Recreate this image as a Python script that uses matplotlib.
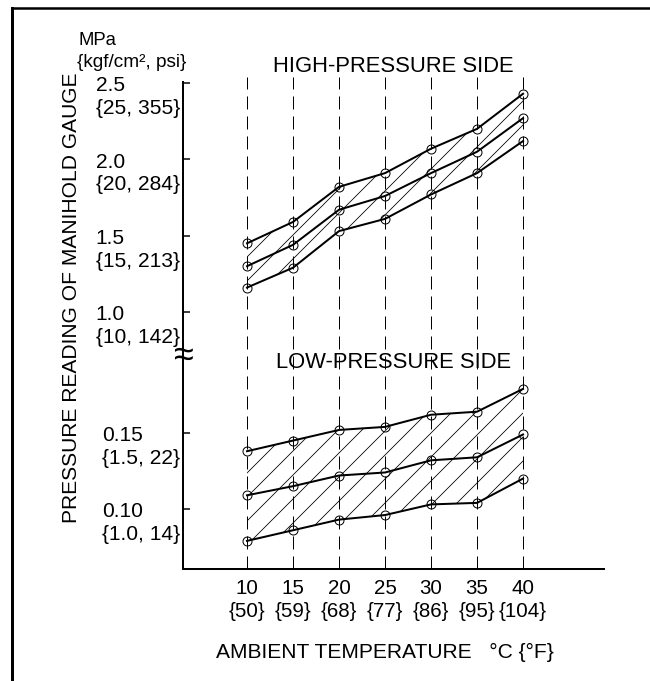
#!/usr/bin/env python3
"""Manifold gauge pressure vs ambient temperature (high / low side, broken y axis)."""
import matplotlib
matplotlib.use("Agg")
import matplotlib.pyplot as plt
import matplotlib.transforms as mtransforms
from matplotlib.lines import Line2D

plt.rcParams["font.family"] = ["Liberation Sans", "DejaVu Sans"]
plt.rcParams["hatch.linewidth"] = 0.8

W, H, DPI = 650, 681, 72

TEMPS_C = [10, 15, 20, 25, 30, 35, 40]
TEMPS_F = [50, 59, 68, 77, 86, 95, 104]

# high-pressure side, MPa (upper / middle / lower curve)
HI_TOP = [1.45, 1.59, 1.82, 1.91, 2.07, 2.20, 2.43]
HI_MID = [1.30, 1.44, 1.67, 1.76, 1.91, 2.05, 2.27]
HI_BOT = [1.16, 1.29, 1.53, 1.61, 1.77, 1.91, 2.12]

# low-pressure side, MPa
LO_TOP = [0.138, 0.145, 0.152, 0.154, 0.162, 0.164, 0.179]
LO_MID = [0.109, 0.115, 0.122, 0.124, 0.132, 0.134, 0.149]
LO_BOT = [0.079, 0.086, 0.093, 0.096, 0.103, 0.104, 0.120]

HI_TICKS = [1.0, 1.5, 2.0, 2.5]
HI_LABELS = ["1.0\n{10, 142}", "1.5\n{15, 213}", "2.0\n{20, 284}", "2.5\n{25, 355}"]
LO_TICKS = [0.10, 0.15]
LO_LABELS = ["0.10\n{1.0, 14}", "0.15\n{1.5, 22}"]


def px(x, y):
    """pixel (from top-left) -> figure fraction"""
    return x / W, 1 - y / H


def band(ax, top, mid, bot):
    ax.fill_between(TEMPS_C, bot, top, facecolor="none", edgecolor="black",
                    hatch="/", lw=0, zorder=1)
    for ys in (top, mid, bot):
        ax.plot(TEMPS_C, ys, color="black", lw=2, marker="o", ms=9,
                mfc="none", mec="black", mew=1, zorder=3)


def ylabels(fig, ax, ticks, labels):
    ax.set_yticks(ticks, labels=labels)
    ax.tick_params(axis="y", direction="in", length=7, width=1.5, pad=3,
                   labelsize=21)
    # baseline anchor is the 2nd line here; put it ~31 px below the tick
    off = mtransforms.ScaledTranslation(0, -31 / 72, fig.dpi_scale_trans)
    for lab in ax.get_yticklabels():
        lab.set_verticalalignment("baseline")
        lab.set_multialignment("left")
        lab.set_linespacing(1.25)
        lab.set_transform(lab.get_transform() + off)


def main():
    fig = plt.figure(figsize=(W / DPI, H / DPI), dpi=DPI)
    x0, _ = px(183, 0)
    x1, _ = px(604, 0)
    _, yt = px(0, 82)
    _, yb = px(0, 355)
    _, ya = px(0, 569)
    ax_hi = fig.add_axes([x0, yb, x1 - x0, yt - yb])
    ax_lo = fig.add_axes([x0, ya, x1 - x0, yb - ya])

    for ax in (ax_hi, ax_lo):
        ax.set_xlim(3.04, 48.8)
        ax.patch.set_visible(False)
        for s in ("top", "right"):
            ax.spines[s].set_visible(False)
        ax.spines["left"].set_linewidth(2)
    ax_hi.spines["bottom"].set_visible(False)
    ax_lo.spines["bottom"].set_linewidth(2)
    ax_hi.set_ylim(0.718, 2.507)
    ax_lo.set_ylim(0.0605, 0.2013)

    band(ax_hi, HI_TOP, HI_MID, HI_BOT)
    band(ax_lo, LO_TOP, LO_MID, LO_BOT)

    # dashed guides for every temperature, running through both panels
    trans = mtransforms.blended_transform_factory(ax_hi.transData, fig.transFigure)
    ax_hi.vlines(TEMPS_C, ya, px(0, 77)[1], transform=trans, color="black",
                 lw=1, linestyles=(0, (13, 7)), clip_on=False, zorder=2)

    ylabels(fig, ax_hi, HI_TICKS, HI_LABELS)
    ylabels(fig, ax_lo, LO_TICKS, LO_LABELS)
    ax_hi.set_xticks([])
    ax_lo.set_xticks(TEMPS_C, labels=[f"{c}\n{{{f}}}" for c, f in zip(TEMPS_C, TEMPS_F)])
    ax_lo.tick_params(axis="x", length=0, pad=10, labelsize=20.5)
    for lab in ax_lo.get_xticklabels():
        lab.set_linespacing(1.25)

    fig.text(*px(393, 72), "HIGH-PRESSURE SIDE", ha="center", va="baseline", fontsize=22)
    fig.text(*px(394, 368), "LOW-PRESSURE SIDE", ha="center", va="baseline", fontsize=22)
    fig.text(*px(385, 658), "AMBIENT TEMPERATURE   \u00b0C {\u00b0F}", ha="center",
             va="baseline", fontsize=21)
    fig.text(*px(72, 298), "PRESSURE READING OF MANIHOLD GAUGE", rotation=90,
             ha="center", va="center", fontsize=21)
    fig.text(*px(78, 45), "MPa", ha="left", va="baseline", fontsize=18.5)
    fig.text(*px(77, 67), "{kgf/cm\u00b2, psi}", ha="left", va="baseline", fontsize=19)
    fig.text(*px(183, 356), "\u2248", ha="center", va="center", fontsize=36)

    # outer frame (left and top only)
    fig.add_artist(Line2D([11.5 / W, 11.5 / W], [0, 1 - 7.5 / H], color="black", lw=3))
    fig.add_artist(Line2D([11.5 / W, 1], [1 - 7.5 / H, 1 - 7.5 / H], color="black", lw=2.5))

    fig.savefig("out.png", dpi=DPI)
    plt.close(fig)


if __name__ == "__main__":
    main()
